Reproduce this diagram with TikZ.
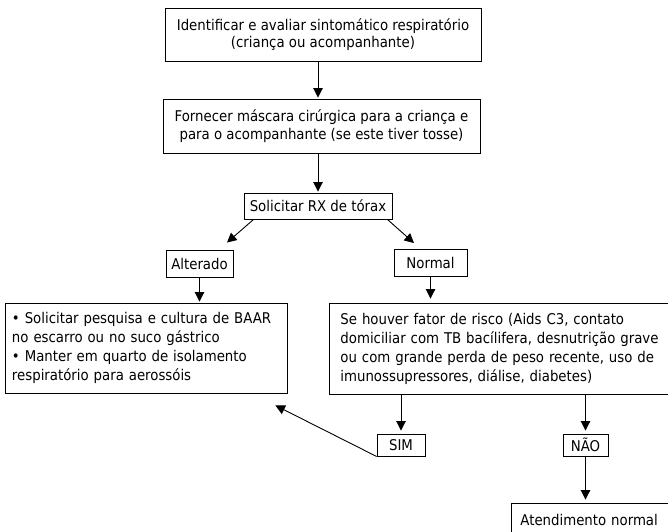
\documentclass[tikz,border=0pt]{standalone}
\usepackage{fontspec}
\setmainfont{DejaVu Sans Condensed}
\usetikzlibrary{arrows.meta}
\begin{document}
\begin{tikzpicture}[x=1pt,y=-1pt,
  box/.style={draw=black, line width=0.9pt, inner sep=0pt,
    font=\fontsize{14.8}{17.5}\selectfont},
  tallbox/.style={box, font=\fontsize{14.8}{19}\selectfont},
  flow/.style={line width=0.9pt, -{Triangle[length=9.5pt,width=9.5pt]}}]
\useasboundingbox (0,0) rectangle (668,531);
\clip (0,0) rectangle (668,531);

% boxes
\node[box, minimum width=316pt, minimum height=53pt, align=center] (b1) at (323,34.5)
  {Identificar e avaliar sintomático respiratório\\(criança ou acompanhante)};
\node[box, minimum width=317pt, minimum height=54pt, align=center] (b2) at (321.5,126)
  {Fornecer máscara cirúrgica para a criança e\\para o acompanhante (se este tiver tosse)};
\node[box, minimum width=148pt, minimum height=26pt] (rx) at (318,206) {Solicitar RX de tórax};
\node[box, minimum width=67pt, minimum height=27pt] (alt) at (199.5,263.5) {Alterado};
\node[box, minimum width=73pt, minimum height=27pt] (nor) at (430.5,263) {Normal};
\node[tallbox, text width=268pt, inner xsep=7pt, minimum height=90pt, align=left] (left) at (146,348)
  {• Solicitar pesquisa e cultura de BAAR\\no escarro ou no suco gástrico\\• Manter em quarto de isolamento\\respiratório para aerossóis};
\node[tallbox, text width=340pt, inner xsep=11pt, minimum height=91pt, align=left, anchor=west] (risk) at (329,348.5)
  {Se houver fator de risco (Aids C3, contato\\domiciliar com TB bacílifera, desnutrição grave\\ou com grande perda de peso recente, uso de\\imunossupressores, diálise, diabetes)};
\node[box, minimum width=48pt, minimum height=22pt] (sim) at (401,445) {SIM};
\node[box, minimum width=45pt, minimum height=22pt] (nao) at (585.5,445) {NÃO};
\node[box, inner xsep=9pt, minimum height=33pt, text width=160pt, align=left, anchor=west] (aten) at (511,519.5)
  {Atendimento normal};

% connectors
\draw[flow] (b1.south -| rx.north) -- ([yshift=1pt]b2.north -| rx.north);
\draw[flow] (b2.south -| rx.north) -- ([yshift=1pt]rx.north);
\draw[flow] ([xshift=10pt]rx.south west) -- ([xshift=27.5pt,yshift=7pt]alt.north);
\draw[flow] ([xshift=-5pt]rx.south east) -- ([xshift=-16.5pt,yshift=6pt]nor.north);
\draw[flow] (alt.south) -- ([yshift=1pt]alt.south |- left.north);
\draw[flow] (nor.south) -- ([yshift=4pt]nor.south |- risk.north);
\draw[flow] (risk.south -| sim.north) -- ([yshift=3pt]sim.north);
\draw[flow] (risk.south -| nao.north) -- ([yshift=3pt]nao.north);
\draw[flow] (nao.south) -- ([yshift=3pt]nao.south |- aten.north);
\draw[flow] (sim.south west) -- ([xshift=-12pt,yshift=-12pt]left.south east);
\end{tikzpicture}
\end{document}
